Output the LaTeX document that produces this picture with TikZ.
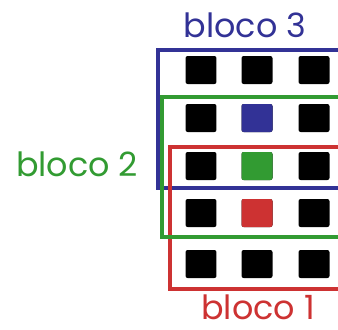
\documentclass[tikz,border=0pt]{standalone}
\usepackage{fontspec}
\setmainfont{Poppins}
\usetikzlibrary{positioning}
\definecolor{blocoazul}{RGB}{50,50,150}
\definecolor{blocoverde}{RGB}{50,155,50}
\definecolor{blocovermelho}{RGB}{205,50,50}
\tikzset{
  pixel/.style={rounded corners=1.2pt, minimum width=0.62cm, minimum height=0.56cm, inner sep=0pt},
  quad/.style={pixel, fill=black},
  caixa/.style={line width=2.6pt},
  rotulo/.style={font=\fontsize{19}{22}\selectfont, inner sep=0pt, anchor=base}
}

\begin{document}
\begin{tikzpicture}[x=0.02cm, y=-0.02cm]
  \useasboundingbox (0,0) rectangle (338,329);
  % grid of pixels
  \foreach \r/\y in {1/70,2/118,3/166,4/213,5/264} {
    \foreach \c/\x in {1/201,2/257,3/314} {
      \node[quad] (p-\r-\c) at (\x,\y) {};
    }
  }
  \node[pixel, fill=blocoazul] at (p-2-2) {};
  \node[pixel, fill=blocoverde] at (p-3-2) {};
  \node[pixel, fill=blocovermelho] at (p-4-2) {};

  % blocks
  \draw[caixa, draw=blocoazul] (345,50) -- (158,50) -- (158,188) -- (345,188);
  \draw[caixa, draw=blocovermelho] (345,147) -- (170,147) -- (170,289) -- (345,289);
  \draw[caixa, draw=blocoverde] (345,97) -- (162,97) -- (162,237) -- (345,237);

  \node[rotulo, text=blocoazul] (b3) at (245,37) {bloco 3};
  \node[rotulo, text=blocoverde] (b2) at (77,176) {bloco 2};
  \node[rotulo, text=blocovermelho] (b1) at (258,319) {bloco 1};
\end{tikzpicture}
\end{document}
